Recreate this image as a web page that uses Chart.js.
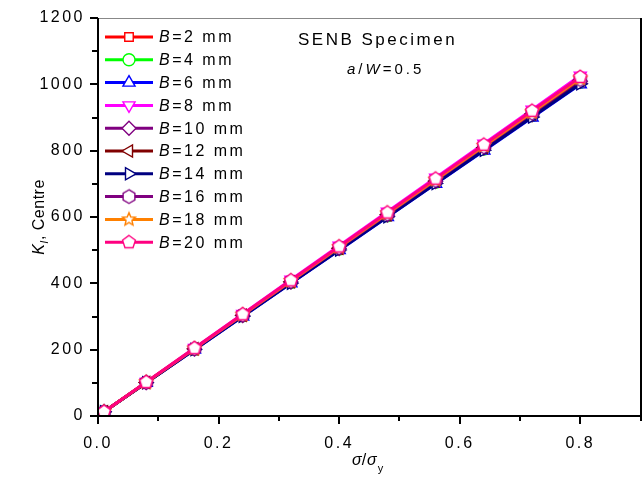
<!DOCTYPE html>
<html>
<head>
<meta charset="utf-8">
<script src="https://cdn.jsdelivr.net/npm/chart.js@4.4.1/dist/chart.umd.min.js"></script>
<style>
  html, body { margin: 0; padding: 0; background: #fff; overflow: hidden; }
  #wrap { width: 649px; height: 479px; position: relative; }
  canvas { display: block; }
</style>
</head>
<body>
<div id="wrap"><canvas id="chart"></canvas></div>
<script>
// stress ratio sigma/sigma_y
const sigmaRatio = [0.01, 0.08, 0.16, 0.24, 0.32, 0.40, 0.48, 0.56, 0.64, 0.72, 0.80];

// K_I at crack centre, one array per thickness B
const kB2  = [12.6, 100.4, 200.8, 301.2, 401.6, 502.0, 602.4, 702.8, 803.2, 903.6, 1004.0];
const kB4  = [12.6, 100.6, 201.3, 301.9, 402.6, 503.2, 603.8, 704.5, 805.1, 905.8, 1006.4];
const kB6  = [12.5, 100.0, 200.0, 300.0, 400.0, 500.0, 600.0, 700.0, 800.0, 900.0, 1000.0];
const kB8  = [12.8, 102.6, 205.3, 307.9, 410.6, 513.2, 615.8, 718.5, 821.1, 923.8, 1026.4];
const kB10 = [12.6, 101.0, 201.9, 302.9, 403.8, 504.8, 605.8, 706.7, 807.7, 908.6, 1009.6];
const kB12 = [12.7, 101.2, 202.4, 303.6, 404.8, 506.0, 607.2, 708.4, 809.6, 910.8, 1012.0];
const kB14 = [12.5, 100.2, 200.3, 300.5, 400.6, 500.8, 601.0, 701.1, 801.3, 901.4, 1001.6];
const kB16 = [12.7, 101.4, 202.9, 304.3, 405.8, 507.2, 608.6, 710.1, 811.5, 913.0, 1014.4];
const kB18 = [12.7, 101.8, 203.5, 305.3, 407.0, 508.8, 610.6, 712.3, 814.1, 915.8, 1017.6];
const kB20 = [12.8, 102.2, 204.5, 306.7, 409.0, 511.2, 613.4, 715.7, 817.9, 920.2, 1022.4];

const thickness = ['2', '4', '6', '8', '10', '12', '14', '16', '18', '20'];
const seriesValues = [kB2, kB4, kB6, kB8, kB10, kB12, kB14, kB16, kB18, kB20];

const xTicks = [0, 0.1, 0.2, 0.3, 0.4, 0.5, 0.6, 0.7, 0.8, 0.9];
const yTicks = [0, 200, 400, 600, 800, 1000, 1200];

const colores = ['#ff0000', '#00ff00', '#0000ff', '#ff00ff', '#800080',
                 '#800000', '#000080', '#800080', '#ff8000', '#ff0080'];

// marcadores que Chart.js no trae: hexagono, estrella, pentagono
function marcador(lados, color, estrella) {
    const c = document.createElement('canvas');
    c.width = 18; c.height = 18;
    const g = c.getContext('2d');
    const r = 6.8;
    const n = estrella ? lados * 2 : lados;
    g.beginPath();
    for (let i = 0; i < n; i++) {
        const a = -Math.PI / 2 + i * 2 * Math.PI / n;
        const rr = estrella && i % 2 === 1 ? r * 0.45 : r;
        const px = 9 + rr * Math.cos(a), py = 9 + rr * Math.sin(a);
        if (i === 0) g.moveTo(px, py); else g.lineTo(px, py);
    }
    g.closePath();
    g.fillStyle = '#fff';
    g.fill();
    g.lineWidth = 1.4;
    g.strokeStyle = color;
    g.stroke();
    return c;
}

const estilos = [
    { pointStyle: 'rect', rotation: 0, radius: 6 },
    { pointStyle: 'circle', rotation: 0, radius: 6 },
    { pointStyle: 'triangle', rotation: 0, radius: 7 },
    { pointStyle: 'triangle', rotation: 180, radius: 7 },
    { pointStyle: 'rectRot', rotation: 0, radius: 7 },
    { pointStyle: 'triangle', rotation: 270, radius: 7 },
    { pointStyle: 'triangle', rotation: 90, radius: 7 },
    { pointStyle: marcador(6, colores[7], false), rotation: 0, radius: 6 },
    { pointStyle: marcador(5, colores[8], true), rotation: 0, radius: 6 },
    { pointStyle: marcador(5, colores[9], false), rotation: 0, radius: 6 }
];

const datasets = seriesValues.map((vals, i) => ({
    label: 'B=' + thickness[i] + ' mm',
    data: sigmaRatio.map((x, j) => ({ x: x, y: vals[j] })),
    borderColor: colores[i],
    backgroundColor: '#ffffff',
    borderWidth: 3,
    pointStyle: estilos[i].pointStyle,
    rotation: estilos[i].rotation,
    pointRadius: estilos[i].radius,
    pointBorderWidth: 1.4,
    pointBackgroundColor: '#ffffff',
    pointBorderColor: colores[i],
    order: seriesValues.length - i
}));

const FUENTE = '"Liberation Sans", Arial, sans-serif';

// espaciado de letras tipo Origin
const espaciado = {
    id: 'espaciado',
    beforeLayout(chart) { chart.ctx.letterSpacing = '2.5px'; },
    beforeDraw(chart) { chart.ctx.letterSpacing = '2.5px'; }
};

// texto con partes en cursiva
function textoMixto(ctx, partes, x, y, tam) {
    partes.forEach(p => {
        ctx.font = (p[1] ? 'italic ' : '') + tam + 'px ' + FUENTE;
        ctx.fillText(p[0], x, y);
        x += ctx.measureText(p[0]).width;
    });
}

const sinRelleno = s => { s.paddingTop = 0; s.paddingBottom = 0; s.paddingLeft = 0; s.paddingRight = 0; };

// marco, ticks, leyenda y titulos
const adornos = {
    id: 'adornos',
    afterDraw(chart) {
        const ctx = chart.ctx;
        const a = chart.chartArea;
        const xs = chart.scales.x, ys = chart.scales.y;
        const L = Math.round(a.left), R = Math.round(a.right);
        const T = Math.round(a.top), B = Math.round(a.bottom);
        ctx.save();

        // marco
        ctx.fillStyle = '#888';
        ctx.fillRect(L, T, R - L, 1);
        ctx.fillStyle = '#000';
        ctx.fillRect(L - 1, T, 2, B - T + 1);
        ctx.fillRect(L - 1, B - 1, R - L + 2, 2);
        ctx.fillRect(R - 1, T, 2, B - T + 1);

        // ticks
        for (let v = 0; v <= 1200; v += 100) {
            const py = Math.round(ys.getPixelForValue(v));
            const len = v % 200 === 0 ? 8 : 6;
            ctx.fillRect(L - len, py - 1, len, 2);
        }
        xTicks.forEach((v, i) => {
            const px = Math.round(xs.getPixelForValue(v));
            const len = i % 2 === 0 ? 8 : 5;
            ctx.fillRect(px - 1, B, 2, len);
        });

        // leyenda
        ctx.textBaseline = 'middle';
        ctx.textAlign = 'left';
        chart.data.datasets.forEach((ds, i) => {
            const y = a.top + 19 + i * 22.8;
            const x0 = a.left + 7, x1 = a.left + 55, xm = a.left + 31;
            ctx.strokeStyle = ds.borderColor;
            ctx.lineWidth = 3;
            ctx.beginPath(); ctx.moveTo(x0, y); ctx.lineTo(x1, y); ctx.stroke();
            ctx.fillStyle = '#fff';
            ctx.strokeStyle = ds.borderColor;
            ctx.lineWidth = 1.4;
            Chart.helpers.drawPoint(ctx, {
                pointStyle: ds.pointStyle, rotation: ds.rotation, radius: ds.pointRadius, borderWidth: 1.4
            }, xm, y);
            ctx.fillStyle = '#000';
            ctx.letterSpacing = '2.5px';
            textoMixto(ctx, [['B', true], ['=' + thickness[i] + ' mm', false]], a.left + 61, y + 1, 16);
        });

        // titulo dentro del grafico
        ctx.fillStyle = '#000';
        ctx.letterSpacing = '2.5px';
        ctx.font = '17px ' + FUENTE;
        ctx.fillText('SENB Specimen', 298, 40);
        ctx.letterSpacing = '3px';
        textoMixto(ctx, [['a', true], ['/', false], ['W', true], ['=0.5', false]], 347, 70, 15);

        // titulo eje x
        ctx.letterSpacing = '0px';
        let sx = 352;
        ctx.font = 'italic 16px ' + FUENTE;
        ctx.fillText('\u03c3', sx, 461); sx += ctx.measureText('\u03c3').width;
        ctx.font = '16px ' + FUENTE;
        ctx.fillText('/', sx, 461); sx += ctx.measureText('/').width + 1;
        ctx.font = 'italic 16px ' + FUENTE;
        ctx.fillText('\u03c3', sx, 461); sx += ctx.measureText('\u03c3').width + 1;
        ctx.font = '11px ' + FUENTE;
        ctx.fillText('y', sx, 469);

        // titulo eje y
        ctx.translate(40, 217);
        ctx.rotate(-Math.PI / 2);
        ctx.letterSpacing = '0.5px';
        const partes = [['K', 'italic 16px ', 0], ['I', 'italic 11px ', 5], [', Centre', '16px ', 0]];
        let total = 0;
        partes.forEach(p => { ctx.font = p[1] + FUENTE; total += ctx.measureText(p[0]).width; });
        let ox = -total / 2;
        partes.forEach(p => {
            ctx.font = p[1] + FUENTE;
            ctx.fillText(p[0], ox, p[2]);
            ox += ctx.measureText(p[0]).width;
        });
        ctx.restore();
    }
};

const ctx = document.getElementById('chart').getContext('2d');
const chart = new Chart(ctx, {
    type: 'line',
    data: { datasets: datasets },
    options: {
        responsive: true,
        maintainAspectRatio: false,
        animation: false,
        layout: { padding: { top: 18, right: 2, left: 0, bottom: 0 } },
        plugins: {
            legend: { display: false },
            tooltip: { enabled: false },
            title: { display: false }
        },
        scales: {
            x: {
                type: 'linear',
                min: 0,
                max: 0.9,
                afterBuildTicks: s => { s.ticks = xTicks.map(v => ({ value: v })); },
                afterFit: s => { s.height = 63; sinRelleno(s); },
                grid: { display: false, drawTicks: false },
                border: { display: false },
                ticks: {
                    autoSkip: false,
                    maxRotation: 0,
                    padding: 18,
                    color: '#000',
                    font: { family: FUENTE, size: 16 },
                    callback: (v, i) => i % 2 === 0 ? v.toFixed(1) : ''
                }
            },
            y: {
                type: 'linear',
                min: 0,
                max: 1200,
                afterBuildTicks: s => { s.ticks = yTicks.map(v => ({ value: v })); },
                afterFit: s => { s.width = 98; sinRelleno(s); },
                grid: { display: false, drawTicks: false },
                border: { display: false },
                ticks: {
                    padding: 13,
                    color: '#000',
                    font: { family: FUENTE, size: 16 },
                    callback: v => String(v)
                }
            }
        }
    },
    plugins: [espaciado, adornos]
});
</script>
</body>
</html>
